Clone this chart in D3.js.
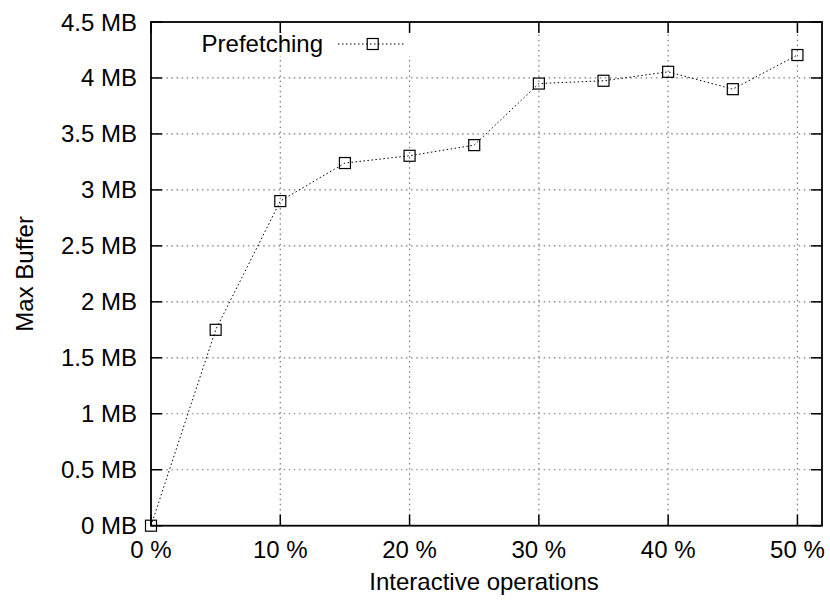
<!DOCTYPE html>
<html>
<head>
<meta charset="utf-8">
<script src="https://cdn.jsdelivr.net/npm/d3@7/dist/d3.min.js"></script>
<style>
  html, body { margin: 0; padding: 0; background: #fff; }
  svg { display: block; }
  text { font-family: "Liberation Sans", Arial, Helvetica, sans-serif; fill: #000; }
</style>
</head>
<body>
<svg id="chart" width="830" height="602"></svg>
<script>
const xValues = [0, 5, 10, 15, 20, 25, 30, 35, 40, 45, 50];
const prefetching = [0, 1.75, 2.9, 3.24, 3.305, 3.40, 3.95, 3.975, 4.055, 3.90, 4.205];
const xTicks = [0, 10, 20, 30, 40, 50];
const yTicks = [0, 0.5, 1, 1.5, 2, 2.5, 3, 3.5, 4, 4.5];
const seriesName = "Prefetching";
const xTitle = "Interactive operations";
const yTitle = "Max Buffer";

const svg = d3.select("#chart");
const L = 151, R = 822, T = 22, B = 525.7;
const x = d3.scaleLinear().domain([0, 51.9]).range([L, R]);
const y = d3.scaleLinear().domain([0, 4.5]).range([B, T]);
const tickLen = 11;
const fs = 24;

// grid
const grid = svg.append("g").attr("stroke", "#7a7a7a").attr("stroke-width", 1.2)
  .attr("stroke-dasharray", "1.5,3.6").attr("fill", "none");
xTicks.forEach(t => {
  if (t === 0) return;
  grid.append("line").attr("x1", x(t)).attr("x2", x(t)).attr("y1", B).attr("y2", T);
});
yTicks.forEach(t => {
  if (t === 0 || t === 4.5) return;
  grid.append("line").attr("y1", y(t)).attr("y2", y(t)).attr("x1", L).attr("x2", R);
});

// legend background blanking
svg.append("rect").attr("x", 198).attr("y", 32).attr("width", 214).attr("height", 24).attr("fill", "#fff");

// ticks (mirrored, inward)
const ticks = svg.append("g").attr("stroke", "#000").attr("stroke-width", 1.5);
xTicks.forEach(t => {
  ticks.append("line").attr("x1", x(t)).attr("x2", x(t)).attr("y1", B).attr("y2", B - tickLen);
  ticks.append("line").attr("x1", x(t)).attr("x2", x(t)).attr("y1", T).attr("y2", T + tickLen);
});
yTicks.forEach(t => {
  ticks.append("line").attr("y1", y(t)).attr("y2", y(t)).attr("x1", L).attr("x2", L + tickLen);
  ticks.append("line").attr("y1", y(t)).attr("y2", y(t)).attr("x1", R).attr("x2", R - tickLen);
});

// border
svg.append("rect").attr("x", L).attr("y", T).attr("width", R - L).attr("height", B - T)
  .attr("fill", "none").attr("stroke", "#000").attr("stroke-width", 1.8);

// tick labels
xTicks.forEach(t => {
  svg.append("text").attr("x", x(t)).attr("y", 558).attr("text-anchor", "middle")
    .attr("font-size", fs).text(t + " %");
});
yTicks.forEach(t => {
  svg.append("text").attr("x", 137).attr("y", y(t) + 8.5).attr("text-anchor", "end")
    .attr("font-size", fs).text(t + " MB");
});

// axis titles
svg.append("text").attr("x", 484).attr("y", 590).attr("text-anchor", "middle")
  .attr("font-size", fs).text(xTitle);
svg.append("text").attr("transform", `translate(33,${(T + B) / 2}) rotate(-90)`)
  .attr("text-anchor", "middle").attr("font-size", fs).text(yTitle);

// data line
const data = xValues.map((v, i) => ({ x: v, y: prefetching[i] }));
const line = d3.line().x(d => x(d.x)).y(d => y(d.y));
svg.append("path").datum(data).attr("d", line).attr("fill", "none")
  .attr("stroke", "#000").attr("stroke-width", 1).attr("stroke-dasharray", "1.5,2.5");

const ms = 11;
svg.append("g").selectAll("rect").data(data).join("rect")
  .attr("x", d => x(d.x) - ms / 2).attr("y", d => y(d.y) - ms / 2)
  .attr("width", ms).attr("height", ms)
  .attr("fill", "none").attr("stroke", "#000").attr("stroke-width", 1.2);

// legend
svg.append("text").attr("x", 323).attr("y", 52).attr("text-anchor", "end")
  .attr("font-size", fs).text(seriesName);
svg.append("line").attr("x1", 338).attr("x2", 405).attr("y1", 44).attr("y2", 44)
  .attr("stroke", "#000").attr("stroke-width", 1).attr("stroke-dasharray", "1.5,2.5");
svg.append("rect").attr("x", 372.7 - ms / 2).attr("y", 44 - ms / 2).attr("width", ms).attr("height", ms)
  .attr("fill", "none").attr("stroke", "#000").attr("stroke-width", 1.2);
</script>
</body>
</html>
